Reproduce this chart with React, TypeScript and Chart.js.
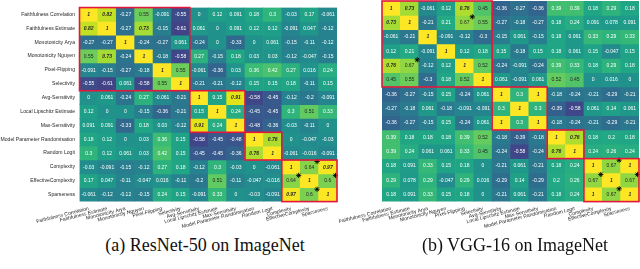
import React, { useEffect, useRef } from 'react';
import { Chart, registerables } from 'chart.js';

Chart.register(...registerables);

// ---------- labels ----------
const metrics = [
  'Faithfulness Correlation',
  'Faithfulness Estimate',
  'Monotonicity Arya',
  'Monotonicity Nguyen',
  'Pixel-Flipping',
  'Selectivity',
  'Avg-Sensitivity',
  'Local Lipschitz Estimate',
  'Max-Sensitivity',
  'Model Parameter Randomisation',
  'Random Logit',
  'Complexity',
  'EffectiveComplexity',
  'Sparseness',
];

// ---------- (a) ResNet-50 on ImageNet ----------
const resnetFaithCorr = [1, 0.82, -0.27, 0.55, -0.091, -0.55, 0, 0.12, 0.091, 0.18, 0.3, -0.03, 0.17, -0.061];
const resnetFaithEst = [0.82, 1, -0.27, 0.73, -0.15, -0.61, 0.061, 0, 0.091, 0.12, 0.12, -0.091, 0.047, -0.12];
const resnetMonoArya = [-0.27, -0.27, 1, -0.24, -0.27, 0.061, -0.24, 0, -0.33, 0, 0.061, -0.15, -0.11, -0.12];
const resnetMonoNguyen = [0.55, 0.73, -0.24, 1, -0.18, -0.58, 0.27, -0.15, 0.18, 0.03, 0.03, -0.12, -0.047, -0.15];
const resnetPixelFlip = [-0.091, -0.15, -0.27, -0.18, 1, 0.55, -0.061, -0.36, 0.03, 0.36, 0.42, 0.27, 0.016, 0.24];
const resnetSelectivity = [-0.55, -0.61, 0.061, -0.58, 0.55, 1, -0.21, -0.21, -0.12, 0.15, 0.15, 0.18, -0.11, 0.15];
const resnetAvgSens = [0, 0.061, -0.24, 0.27, -0.061, -0.21, 1, 0.15, 0.91, -0.58, -0.45, -0.12, -0.2, -0.091];
const resnetLocalLip = [0.12, 0, 0, -0.15, -0.36, -0.21, 0.15, 1, 0.24, -0.45, -0.45, 0.3, 0.51, 0.33];
const resnetMaxSens = [0.091, 0.091, -0.33, 0.18, 0.03, -0.12, 0.91, 0.24, 1, -0.48, -0.36, -0.03, -0.11, 0];
const resnetMPR = [0.18, 0.12, 0, 0.03, 0.36, 0.15, -0.58, -0.45, -0.48, 1, 0.76, 0, -0.047, -0.03];
const resnetRandLogit = [0.3, 0.12, 0.061, 0.03, 0.42, 0.15, -0.45, -0.45, -0.36, 0.76, 1, -0.061, -0.016, -0.091];
const resnetComplexity = [-0.03, -0.091, -0.15, -0.12, 0.27, 0.18, -0.12, 0.3, -0.03, 0, -0.061, 1, 0.64, 0.97];
const resnetEffComplexity = [0.17, 0.047, -0.11, -0.047, 0.016, -0.11, -0.2, 0.51, -0.11, -0.047, -0.016, 0.64, 1, 0.6];
const resnetSparseness = [-0.061, -0.12, -0.12, -0.15, 0.24, 0.15, -0.091, 0.33, 0, -0.03, -0.091, 0.97, 0.6, 1];

// ---------- (b) VGG-16 on ImageNet ----------
const vggFaithCorr = [1, 0.73, -0.061, 0.12, 0.76, 0.45, -0.36, -0.27, -0.36, 0.39, 0.39, 0.18, 0.29, 0.18];
const vggFaithEst = [0.73, 1, -0.21, 0.21, 0.67, 0.55, -0.27, -0.18, -0.27, 0.18, 0.24, 0.091, 0.078, 0.091];
const vggMonoArya = [-0.061, -0.21, 1, -0.091, -0.12, -0.3, -0.15, 0.061, -0.15, 0.18, 0.061, 0.33, 0.29, 0.33];
const vggMonoNguyen = [0.12, 0.21, -0.091, 1, 0.12, 0.18, 0.15, -0.18, 0.15, 0.18, 0.061, 0.15, -0.047, 0.15];
const vggPixelFlip = [0.76, 0.67, -0.12, 0.12, 1, 0.52, -0.24, -0.091, -0.24, 0.39, 0.33, 0.18, 0.29, 0.18];
const vggSelectivity = [0.45, 0.55, -0.3, 0.18, 0.52, 1, 0.061, -0.091, 0.061, 0.52, 0.45, 0, 0.016, 0];
const vggAvgSens = [-0.36, -0.27, -0.15, 0.15, -0.24, 0.061, 1, 0.3, 1, -0.18, -0.24, -0.21, -0.29, -0.21];
const vggLocalLip = [-0.27, -0.18, 0.061, -0.18, -0.091, -0.091, 0.3, 1, 0.3, -0.39, -0.58, 0.061, 0.14, 0.061];
const vggMaxSens = [-0.36, -0.27, -0.15, 0.15, -0.24, 0.061, 1, 0.3, 1, -0.18, -0.24, -0.21, -0.29, -0.21];
const vggMPR = [0.39, 0.18, 0.18, 0.18, 0.39, 0.52, -0.18, -0.39, -0.18, 1, 0.76, 0.18, 0.2, 0.18];
const vggRandLogit = [0.39, 0.24, 0.061, 0.061, 0.33, 0.45, -0.24, -0.58, -0.24, 0.76, 1, 0.24, 0.26, 0.24];
const vggComplexity = [0.18, 0.091, 0.33, 0.15, 0.18, 0, -0.21, 0.061, -0.21, 0.18, 0.24, 1, 0.67, 1];
const vggEffComplexity = [0.29, 0.078, 0.29, -0.047, 0.29, 0.016, -0.29, 0.14, -0.29, 0.2, 0.26, 0.67, 1, 0.67];
const vggSparseness = [0.18, 0.091, 0.33, 0.15, 0.18, 0, -0.21, 0.061, -0.21, 0.18, 0.24, 1, 0.67, 1];

const resnetMatrix = [
  resnetFaithCorr, resnetFaithEst, resnetMonoArya, resnetMonoNguyen, resnetPixelFlip, resnetSelectivity,
  resnetAvgSens, resnetLocalLip, resnetMaxSens, resnetMPR, resnetRandLogit,
  resnetComplexity, resnetEffComplexity, resnetSparseness,
];
const vggMatrix = [
  vggFaithCorr, vggFaithEst, vggMonoArya, vggMonoNguyen, vggPixelFlip, vggSelectivity,
  vggAvgSens, vggLocalLip, vggMaxSens, vggMPR, vggRandLogit,
  vggComplexity, vggEffComplexity, vggSparseness,
];

// metric category blocks (first index, last index)
const metricGroups = [[0, 5], [6, 8], [9, 10], [11, 13]];
// starred cells [row, col]
const resnetStars = [[11, 12], [12, 11], [12, 13], [13, 12]];
const vggStars = [[1, 4], [4, 1], [11, 12], [12, 11], [12, 13], [13, 12]];

const captionA = '(a) ResNet-50 on ImageNet';
const captionB = '(b) VGG-16 on ImageNet';

// ---------- colour map ----------
const VIRIDIS = [
  '#440154', '#471365', '#482475', '#463480', '#414487', '#3b528b', '#355f8d',
  '#2f6c8e', '#2a788e', '#25848e', '#21918c', '#1e9c89', '#22a884', '#2fb47c',
  '#44bf70', '#5ec962', '#7ad151', '#9bd93c', '#bddf26', '#dfe318', '#fde725',
];
function hexRgb(h: string) {
  return [parseInt(h.slice(1, 3), 16), parseInt(h.slice(3, 5), 16), parseInt(h.slice(5, 7), 16)];
}
function viridisRgb(t: number) {
  t = Math.max(0, Math.min(1, t));
  const p = t * (VIRIDIS.length - 1);
  const i = Math.min(VIRIDIS.length - 2, Math.floor(p));
  const f = p - i;
  const a = hexRgb(VIRIDIS[i]);
  const b = hexRgb(VIRIDIS[i + 1]);
  return a.map((v, k) => Math.round(v + (b[k] - v) * f));
}
function cellColor(v: number) {
  const [r, g, b] = viridisRgb((v + 1) / 2);
  return `rgb(${r},${g},${b})`;
}
function textColor(v: number) {
  const rgb = viridisRgb((v + 1) / 2).map((c) => {
    const s = c / 255;
    return s <= 0.03928 ? s / 12.92 : Math.pow((s + 0.055) / 1.055, 2.4);
  });
  const lum = 0.2126 * rgb[0] + 0.7152 * rgb[1] + 0.0722 * rgb[2];
  return lum > 0.408 ? '#262626' : '#ffffff';
}

const SANS = '"Liberation Sans", Arial, Helvetica, sans-serif';

type HeatProps = {
  matrix: number[][];
  stars: number[][];
  showRowLabels: boolean;
  left: number;
  yAxisWidth: number;
  padRight: number;
};

const CANVAS_W = 340;
const CANVAS_H = 235;
const PLOT_BOTTOM = 201.6;
const PAD_TOP = 1;

function Heatmap({ matrix, stars, showRowLabels, left, yAxisWidth, padRight }: HeatProps) {
  const ref = useRef<HTMLCanvasElement>(null);

  useEffect(() => {
    const canvas = ref.current;
    if (!canvas) return;

    const datasets = matrix.map((row, r) => ({
      label: metrics[r],
      data: row.map(() => [r - 0.5, r + 0.5]),
      backgroundColor: row.map((v) => cellColor(v)),
      borderWidth: 0,
      borderSkipped: false,
      grouped: false,
      barPercentage: 1,
      categoryPercentage: 1,
    }));

    const annotate = {
      id: 'annotate',
      afterDatasetsDraw(chart: any) {
        const ctx = chart.ctx;
        const xs = chart.scales.x;
        const ys = chart.scales.y;
        const halfW = (xs.getPixelForValue(1) - xs.getPixelForValue(0)) / 2;
        const halfH = Math.abs(ys.getPixelForValue(1) - ys.getPixelForValue(0)) / 2;
        ctx.save();
        ctx.textAlign = 'center';
        ctx.textBaseline = 'middle';
        matrix.forEach((row, r) => {
          const meta = chart.getDatasetMeta(r);
          row.forEach((v, c) => {
            const el = meta.data[c];
            const cx = el.x;
            const cy = (el.y + el.base) / 2;
            const strong = v >= 0.7;
            ctx.font = `${strong ? 'italic bold ' : ''}5px ${SANS}`;
            ctx.fillStyle = textColor(v);
            ctx.fillText(String(v), cx, cy + 0.3);
          });
        });
        // stars
        ctx.strokeStyle = '#000';
        ctx.lineWidth = 0.9;
        stars.forEach(([r, c]) => {
          const sx = xs.getPixelForValue(c) + halfW - 1.5;
          const sy = ys.getPixelForValue(r) - halfH + 1.5;
          const rad = 2.6;
          ctx.beginPath();
          for (let k = 0; k < 4; k++) {
            const a = (k * Math.PI) / 4;
            ctx.moveTo(sx - rad * Math.cos(a), sy - rad * Math.sin(a));
            ctx.lineTo(sx + rad * Math.cos(a), sy + rad * Math.sin(a));
          }
          ctx.stroke();
        });
        // group boxes
        ctx.strokeStyle = '#e3173e';
        ctx.lineWidth = 1.6;
        metricGroups.forEach(([a, b]) => {
          const x0 = xs.getPixelForValue(a) - halfW;
          const x1 = xs.getPixelForValue(b) + halfW;
          const y0 = ys.getPixelForValue(a - 0.5);
          const y1 = ys.getPixelForValue(b + 0.5);
          ctx.strokeRect(x0, y0, x1 - x0, y1 - y0);
        });
        ctx.restore();
      },
    };

    const chart = new Chart(canvas, {
      type: 'bar',
      data: { labels: metrics, datasets: datasets as any },
      options: {
        responsive: false,
        maintainAspectRatio: false,
        animation: false,
        devicePixelRatio: 1,
        layout: { padding: { top: PAD_TOP, right: padRight, left: 0, bottom: 0 } },
        plugins: { legend: { display: false }, tooltip: { enabled: false } },
        scales: {
          x: {
            type: 'category',
            grid: { display: false, drawTicks: false },
            border: { display: false },
            ticks: {
              autoSkip: false,
              minRotation: 14,
              maxRotation: 14,
              padding: 4,
              color: '#262626',
              font: { family: SANS, size: 5.1 },
            },
            afterFit: (s: any) => {
              s.height = CANVAS_H - PLOT_BOTTOM;
            },
          },
          y: {
            type: 'linear',
            reverse: true,
            min: -0.5,
            max: 13.5,
            grid: { display: false, drawTicks: false },
            border: { display: false },
            afterBuildTicks: (axis: any) => {
              axis.ticks = metrics.map((_, i) => ({ value: i }));
            },
            ticks: {
              display: showRowLabels,
              autoSkip: false,
              padding: 4.5,
              color: '#262626',
              font: { family: SANS, size: 5.1 },
              callback: (v: any) => metrics[v as number] ?? '',
            },
            afterFit: (s: any) => {
              s.width = yAxisWidth;
            },
          },
        },
      } as any,
      plugins: [annotate],
    });
    return () => chart.destroy();
  }, [matrix, stars, showRowLabels, yAxisWidth, padRight]);

  return (
    <canvas
      ref={ref}
      width={CANVAS_W}
      height={CANVAS_H}
      style={{ position: 'absolute', left, top: 0, width: CANVAS_W, height: CANVAS_H }}
    />
  );
}

const captionStyle: React.CSSProperties = {
  position: 'absolute',
  top: 235,
  fontFamily: '"Liberation Serif", "Times New Roman", serif',
  fontSize: 18,
  lineHeight: '20px',
  color: '#111',
  whiteSpace: 'nowrap',
  textAlign: 'center',
  width: 300,
};

export default function App() {
  return (
    <div style={{ position: 'absolute', left: 0, top: 0, width: 640, height: 269, background: '#fff', overflow: 'hidden' }}>
      <Heatmap matrix={resnetMatrix} stars={resnetStars} showRowLabels={true} left={0} yAxisWidth={79.5} padRight={3} />
      <Heatmap matrix={vggMatrix} stars={vggStars} showRowLabels={false} left={300} yAxisWidth={82} padRight={1} />
      <div style={{ ...captionStyle, left: 205 - 150 }}>{captionA}</div>
      <div style={{ ...captionStyle, left: 515 - 150 }}>{captionB}</div>
    </div>
  );
}
